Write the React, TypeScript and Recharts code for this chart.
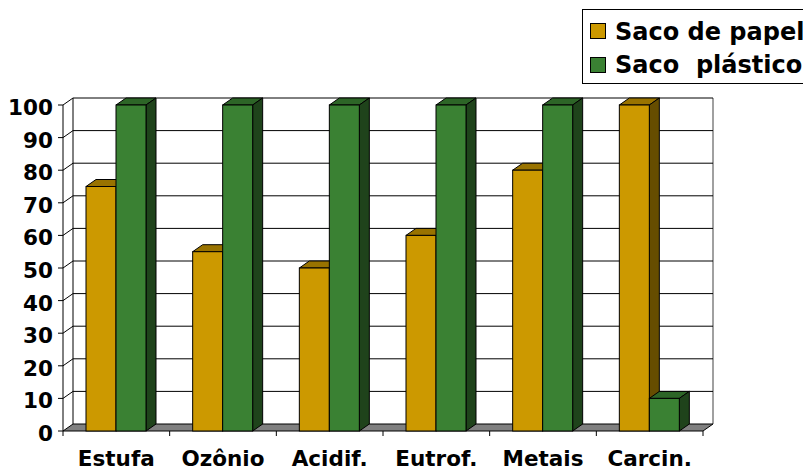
import { BarChart, Bar, XAxis, YAxis, CartesianGrid } from "recharts";

// values (percent scale)
const categories = ["Estufa", "Ozônio", "Acidif.", "Eutrof.", "Metais", "Carcin."];
const papel = [75, 55, 50, 60, 80, 100];
const plastico = [100, 100, 100, 100, 100, 10];
const yTicks = [0, 10, 20, 30, 40, 50, 60, 70, 80, 90, 100];
const seriesNames = ["Saco de papel", "Saco  plástico"];

const data = categories.map((name, i) => ({ name, papel: papel[i], plastico: plastico[i] }));

const W = 803;
const H = 470;
const MARGIN = { top: 105, right: 100, left: 0, bottom: 0 };
const Y_AXIS_W = 63;
const X_AXIS_H = 39;
const BAND = (W - MARGIN.right - Y_AXIS_W) / categories.length;

// depth of the fake 3D
const DX = 10;
const DY = 7;
const FONT = "'DejaVu Sans', Verdana, sans-serif";
const AXIS_FS = 21.5;

const PAPEL = { front: "#cc9900", top: "#997300", side: "#664d00" };
const PLAST = { front: "#3a8133", top: "#2d6527", side: "#1f431b" };

function makeBox(c: { front: string; top: string; side: string }) {
  return (props: any) => {
    const { x, y, width, height } = props;
    if (!height || height <= 0) return <g />;
    const topPts = `${x},${y} ${x + DX},${y - DY} ${x + width + DX},${y - DY} ${x + width},${y}`;
    const sidePts = `${x + width},${y} ${x + width + DX},${y - DY} ${x + width + DX},${y + height - DY} ${x + width},${y + height}`;
    return (
      <g>
        <polygon points={topPts} fill={c.top} stroke="#000" strokeWidth={1} />
        <polygon points={sidePts} fill={c.side} stroke="#000" strokeWidth={1} />
        <rect x={x} y={y} width={width} height={height} fill={c.front} stroke="#000" strokeWidth={1} />
      </g>
    );
  };
}

// grid lines are pushed onto the back wall, with a diagonal from the front axis
const gridLine = (p: any) => {
  const { x1, x2, y1, index } = p;
  const bottom = p.y + p.height;
  const isFloor = Math.abs(y1 - bottom) < 0.5;
  const key = `g-${index}`;
  if (isFloor) {
    const topY = p.y;
    return (
      <g key={key}>
        <line x1={x1 + DX} y1={topY - DY} x2={x1 + DX} y2={y1 - DY} stroke="#000" />
        <line x1={x2 + DX} y1={topY - DY} x2={x2 + DX} y2={y1 - DY} stroke="#808080" strokeWidth={1.5} />
        <polygon
          points={`${x1},${y1} ${x2},${y1} ${x2 + DX},${y1 - DY} ${x1 + DX},${y1 - DY}`}
          fill="#808080"
          stroke="#000"
          strokeWidth={1}
        />
      </g>
    );
  }
  return (
    <g key={key}>
      <line x1={x1} y1={y1} x2={x1 + DX} y2={y1 - DY} stroke="#000" />
      <line x1={x1 + DX} y1={y1 - DY} x2={x2 + DX} y2={y1 - DY} stroke="#000" />
    </g>
  );
};

const YTick = (p: any) => (
  <text x={p.x} y={p.y + 10} textAnchor="end" fontFamily={FONT} fontWeight="bold" fontSize={AXIS_FS} fill="#000">
    {p.payload.value}
  </text>
);

const XTick = (p: any) => {
  const { x, y, payload, index } = p;
  return (
    <g>
      <line x1={x - BAND / 2} y1={y} x2={x - BAND / 2} y2={y + 5} stroke="#000" />
      {index === categories.length - 1 && (
        <line x1={x + BAND / 2} y1={y} x2={x + BAND / 2} y2={y + 5} stroke="#000" />
      )}
      <text x={x} y={y + 35} textAnchor="middle" fontFamily={FONT} fontWeight="bold" fontSize={AXIS_FS} fill="#000">
        {payload.value}
      </text>
    </g>
  );
};

export default function App() {
  const colors = [PAPEL.front, PLAST.front];
  return (
    <div style={{ position: "absolute", left: 0, top: 0, width: W, height: H, overflow: "hidden", background: "#fff" }}>
      <BarChart width={W} height={H} data={data} margin={MARGIN} barGap={0} barSize={30}>
        <CartesianGrid vertical={false} horizontal={gridLine} />
        <XAxis
          dataKey="name"
          height={X_AXIS_H}
          axisLine={false}
          tickLine={false}
          tickSize={0}
          tickMargin={0}
          interval={0}
          tick={XTick}
        />
        <YAxis
          width={Y_AXIS_W}
          domain={[0, 100]}
          ticks={yTicks}
          interval={0}
          axisLine={{ stroke: "#000" }}
          tickLine={{ stroke: "#000" }}
          tickSize={5}
          tickMargin={5}
          tick={YTick}
        />
        <Bar dataKey="papel" name={seriesNames[0]} fill={PAPEL.front} shape={makeBox(PAPEL)} isAnimationActive={false} />
        <Bar dataKey="plastico" name={seriesNames[1]} fill={PLAST.front} shape={makeBox(PLAST)} isAnimationActive={false} />
      </BarChart>
      <div
        style={{
          position: "absolute",
          left: 582,
          top: 9,
          width: 260,
          height: 73,
          border: "1px solid #000",
          background: "#fff",
          fontFamily: FONT,
          fontWeight: "bold",
          fontSize: 24,
          color: "#000",
        }}
      >
        {seriesNames.map((s, i) => (
          <div key={s}>
            <span
              style={{
                position: "absolute",
                left: 7,
                top: 13 + i * 34,
                width: 14,
                height: 14,
                background: colors[i],
                border: "1px solid #000",
              }}
            />
            <span
              style={{ position: "absolute", left: 32, top: 8 + i * 33, whiteSpace: "pre", lineHeight: "28px" }}
            >
              {s}
            </span>
          </div>
        ))}
      </div>
    </div>
  );
}
